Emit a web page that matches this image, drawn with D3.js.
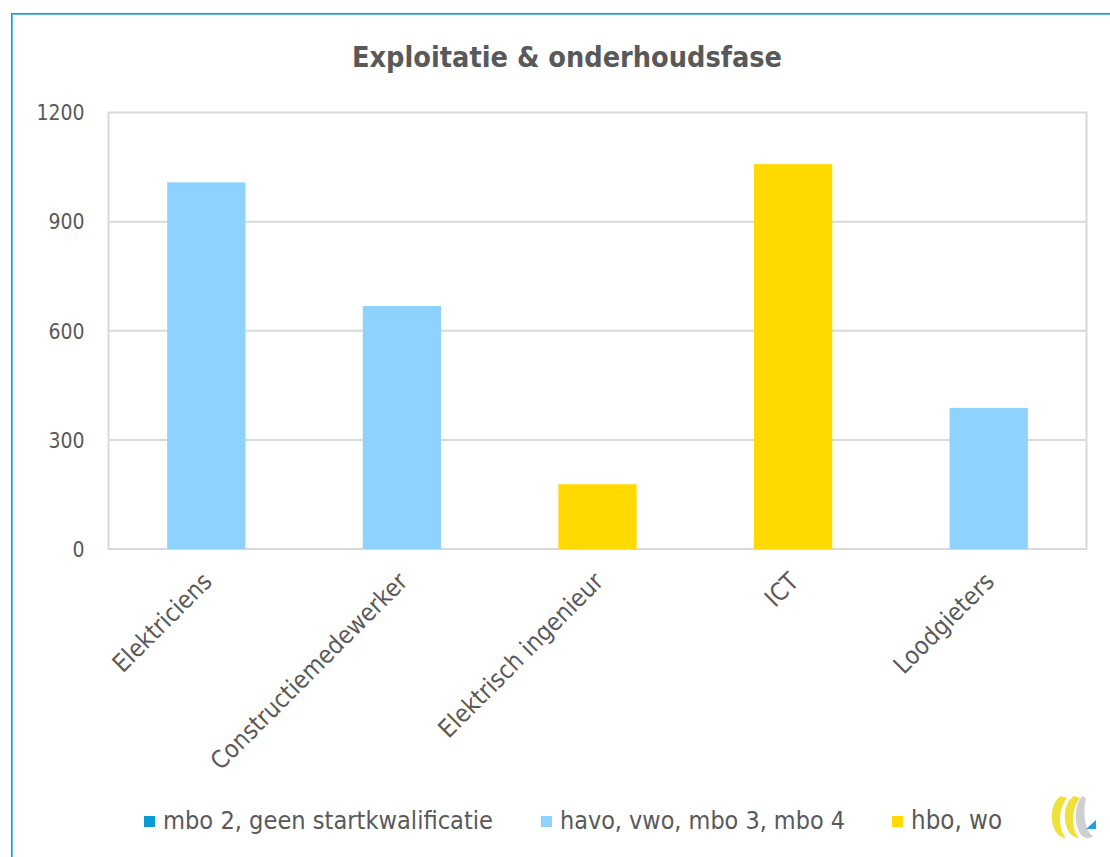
<!DOCTYPE html>
<html>
<head>
<meta charset="utf-8">
<script src="https://cdn.jsdelivr.net/npm/d3@7"></script>
<style>
  html, body { margin: 0; padding: 0; background: #ffffff; }
  svg { display: block; }
  text { font-family: "DejaVu Sans Condensed", "DejaVu Sans", sans-serif; fill: #595959; }
</style>
</head>
<body>
<svg id="chart" width="1110" height="857"></svg>
<script>
const title = "Exploitatie & onderhoudsfase";
const categories = ["Elektriciens", "Constructiemedewerker", "Elektrisch ingenieur", "ICT", "Loodgieters"];
const values = [1008, 668, 178, 1058, 388];
const levels = ["havo", "havo", "hbo", "hbo", "havo"];
const legendKeys = ["mbo", "havo", "hbo"];
const legendLabels = ["mbo 2, geen startkwalificatie", "havo, vwo, mbo 3, mbo 4", "hbo, wo"];
const legendColors = ["#0a9bd7", "#8ed3ff", "#ffd900"];
const yTicks = [0, 300, 600, 900, 1200];

const color = d3.scaleOrdinal().domain(legendKeys).range(legendColors);

const svg = d3.select("#chart");
const W = 1110, H = 857;
const plot = { left: 108.5, right: 1086.5, top: 112.5, bottom: 549 };
const FONT = "\"DejaVu Sans Condensed\", \"DejaVu Sans\", sans-serif";

// outer border (top & left, two-tone blue)
svg.append("line").attr("x1", 11.5).attr("x2", W).attr("y1", 13.5).attr("y2", 13.5).attr("stroke", "#1a96cf").attr("stroke-width", 1);
svg.append("line").attr("x1", 12.5).attr("x2", W).attr("y1", 14.5).attr("y2", 14.5).attr("stroke", "#5cc6ef").attr("stroke-width", 1);
svg.append("line").attr("x1", 11.5).attr("x2", 11.5).attr("y1", 13).attr("y2", H).attr("stroke", "#1a96cf").attr("stroke-width", 1);
svg.append("line").attr("x1", 12.5).attr("x2", 12.5).attr("y1", 14).attr("y2", H).attr("stroke", "#5cc6ef").attr("stroke-width", 1);

// fit text to a target width
function fit(sel, target, start) {
  const node = sel.node();
  let fs = start;
  sel.attr("font-size", fs);
  for (let i = 0; i < 3; i++) {
    const w = node.getComputedTextLength();
    if (w > 0) { fs = fs * target / w; sel.attr("font-size", fs); }
  }
  return fs;
}

// title
const t = svg.append("text").attr("x", 567).attr("y", 67).attr("text-anchor", "middle")
  .attr("font-weight", "bold").text(title);
fit(t, 430, 24);

const x = d3.scaleBand().domain(categories).range([plot.left, plot.right]).paddingInner(0.6).paddingOuter(0.3);
const y = d3.scaleLinear().domain([0, 1200]).range([plot.bottom, plot.top]);

// gridlines
svg.append("g").selectAll("line").data(yTicks.filter(d => d > 0 && d < 1200)).join("line")
  .attr("x1", plot.left).attr("x2", plot.right)
  .attr("y1", d => y(d)).attr("y2", d => y(d))
  .attr("stroke", "#d9d9d9").attr("stroke-width", 2);

// plot frame
svg.append("rect").attr("x", plot.left).attr("y", plot.top)
  .attr("width", plot.right - plot.left).attr("height", plot.bottom - plot.top)
  .attr("fill", "none").attr("stroke", "#d9d9d9").attr("stroke-width", 2);

// bars
svg.append("g").selectAll("rect").data(categories).join("rect")
  .attr("x", d => x(d)).attr("width", x.bandwidth())
  .attr("y", (d, i) => y(values[i])).attr("height", (d, i) => y(0) - y(values[i]))
  .attr("fill", (d, i) => color(levels[i]));

// y axis
const yAxis = svg.append("g").attr("transform", `translate(${plot.left - 24},0)`)
  .call(d3.axisLeft(y).tickValues(yTicks).tickFormat(d3.format("d")).tickSize(0).tickPadding(0))
  .attr("font-family", FONT).attr("font-size", 21);
yAxis.select(".domain").remove();
yAxis.selectAll("text").attr("fill", "#595959").attr("dy", "0.35em");

// x axis labels
const xAxis = svg.append("g").attr("transform", `translate(0,${plot.bottom})`)
  .call(d3.axisBottom(x).tickSize(0).tickPadding(0))
  .attr("font-family", FONT).attr("font-size", 21);
xAxis.select(".domain").remove();
const xl = xAxis.selectAll("text")
  .attr("fill", "#595959")
  .attr("text-anchor", "end").attr("dy", "0.35em")
  .attr("y", 0).attr("x", 0);
// size the labels so the longest one matches the reference length
const longest = xl.filter(d => d === "Constructiemedewerker");
const fsx = fit(longest, 266, 21);
xl.attr("font-size", fsx).attr("transform", "translate(1,28) rotate(-45)");

// legend
const legendX = [163, 560, 911];
const legendW = [330, 285, 91];
const lg = svg.append("g");
legendKeys.forEach((k, i) => {
  lg.append("rect").attr("x", legendX[i] - 19).attr("y", 816).attr("width", 11).attr("height", 11).attr("fill", color(k));
  const tt = lg.append("text").attr("x", legendX[i]).attr("y", 829).text(legendLabels[i]);
  fit(tt, legendW[i], 20);
});

// logo
const logo = svg.append("g").attr("transform", "translate(1045,793)");
logo.append("path").attr("d", "M16,3 C6,9 4,28 11,39 C14,43 18,45 21,45 C14,37 12,18 22,5 Z").attr("fill", "#efe03a");
logo.append("path").attr("d", "M29,3 C19,9 17,28 24,39 C27,43 31,45 34,45 C27,37 25,18 35,5 Z").attr("fill", "#efe03a");
logo.append("path").attr("d", "M37,3 C29,13 29,32 36,42 C40,46 45,46 48,43 C41,39 37,22 41,5 Z").attr("fill", "#cfcfcf");
logo.append("path").attr("d", "M41,36 L51,27 L51,36 Z").attr("fill", "#1ca4e0");
</script>
</body>
</html>
